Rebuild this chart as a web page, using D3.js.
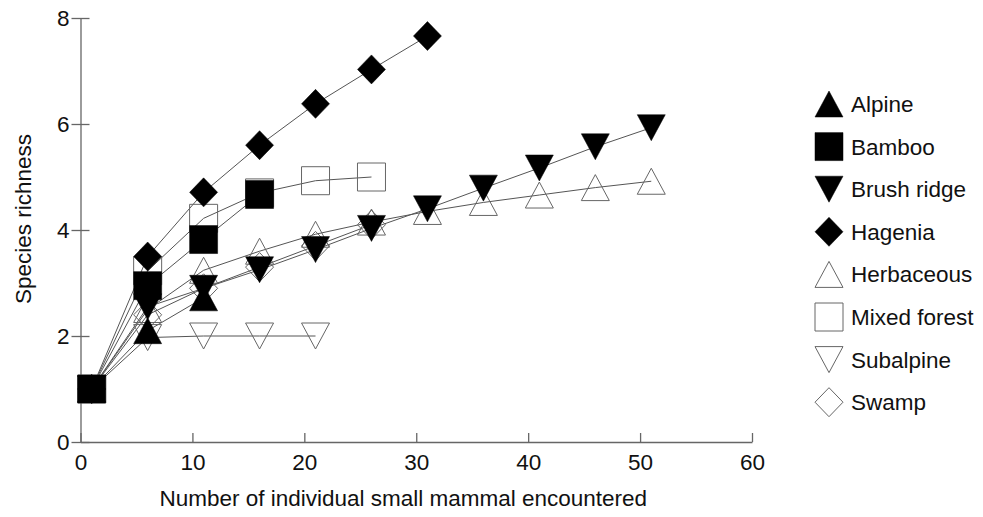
<!DOCTYPE html>
<html>
<head>
<meta charset="utf-8">
<script src="https://cdn.jsdelivr.net/npm/d3@7"></script>
<style>
  body { margin: 0; background: #fff; }
  text { font-family: "Liberation Sans", Arial, sans-serif; fill: #111; }
</style>
</head>
<body>
<div id="svg-container"></div>
<script>
// ------ DATA ------//
const habitats = ["Alpine", "Bamboo", "Brush ridge", "Hagenia", "Herbaceous", "Mixed forest", "Subalpine", "Swamp"];

// individuals encountered (x) shared by all series
const encountered = [1, 6, 11, 16, 21, 26, 31, 36, 41, 46, 51];

// species richness per habitat, one value per x above (shorter series stop early)
const alpine      = [1, 2.1, 2.72];
const bamboo      = [1, 2.95, 3.82, 4.67];
const brushRidge  = [1, 2.55, 2.9, 3.25, 3.63, 4.03, 4.4, 4.79, 5.17, 5.57, 5.93];
const hagenia     = [1, 3.5, 4.71, 5.6, 6.38, 7.03, 7.66];
const herbaceous  = [1, 2.5, 3.24, 3.6, 3.92, 4.15, 4.35, 4.52, 4.66, 4.8, 4.92];
const mixedForest = [1, 3.23, 4.22, 4.7, 4.93, 5.0];
const subalpine   = [1, 1.97, 2.0, 2.0, 2.0];
const swamp       = [1, 2.4, 2.9, 3.3, 3.7, 4.1];

const xTicks = [0, 10, 20, 30, 40, 50, 60];
const yTicks = [0, 2, 4, 6, 8];

// ------ LAYOUT ------//
const width = 983;
const height = 517;

const X_LEFT = 80.5;
const X_RIGHT = 752;
const Y_BOTTOM = 442;
const Y_TOP = 18;

const AXIS_COLOR = "#666";
const LINE_COLOR = "#555";
const OPEN_STROKE = "#666";
const FONT_SIZE = "22.5px";

// marker half sizes
const SQ = 14;
const TRI_W = 14, TRI_H = 13;
const DIA_W = 14, DIA_H = 14.5;

const values = [alpine, bamboo, brushRidge, hagenia, herbaceous, mixedForest, subalpine, swamp];
const shapes = ["up", "square", "down", "diamond", "up", "square", "down", "diamond"];
const filled = [true, true, true, true, false, false, false, false];

const series = habitats.map((name, i) => ({
  name: name,
  shape: shapes[i],
  filled: filled[i],
  points: values[i].map((v, j) => [encountered[j], v])
}));

function markerPath(shape) {
  if (shape === "square") return `M${-SQ},${-SQ}H${SQ}V${SQ}H${-SQ}Z`;
  if (shape === "up") return `M0,${-TRI_H}L${TRI_W},${TRI_H}L${-TRI_W},${TRI_H}Z`;
  if (shape === "down") return `M0,${TRI_H}L${TRI_W},${-TRI_H}L${-TRI_W},${-TRI_H}Z`;
  return `M0,${-DIA_H}L${DIA_W},0L0,${DIA_H}L${-DIA_W},0Z`;
}

const svg = d3
  .select("#svg-container")
  .append("svg")
  .attr("width", width)
  .attr("height", height);

const xScale = d3.scaleLinear().domain([0, 60]).range([X_LEFT, X_RIGHT]);
const yScale = d3.scaleLinear().domain([0, 8]).range([Y_BOTTOM, Y_TOP]);

// =========== AXES =========== //
const xAxis = svg
  .append("g")
  .attr("transform", `translate(0,${Y_BOTTOM})`)
  .call(d3.axisBottom(xScale).tickValues(xTicks).tickSize(-9).tickPadding(12).tickSizeOuter(0));

const yAxis = svg
  .append("g")
  .attr("transform", `translate(${X_LEFT},0)`)
  .call(d3.axisLeft(yScale).tickValues(yTicks).tickSize(9).tickPadding(2).tickSizeOuter(0));

// y ticks cross the axis line
yAxis.selectAll(".tick line").attr("x1", -9).attr("x2", 9);

[xAxis, yAxis].forEach((ax) => {
  ax.select(".domain").attr("stroke", AXIS_COLOR).attr("stroke-width", 1.3);
  ax.selectAll(".tick line").attr("stroke", AXIS_COLOR).attr("stroke-width", 1.3);
  ax.selectAll(".tick text")
    .style("font-size", FONT_SIZE)
    .style("font-family", "'Liberation Sans', Arial, sans-serif")
    .attr("fill", "#111");
});

svg
  .append("text")
  .attr("x", (X_LEFT + X_RIGHT) / 2 - 13)
  .attr("y", 506)
  .attr("text-anchor", "middle")
  .style("font-size", FONT_SIZE)
  .text("Number of individual small mammal encountered");

svg
  .append("text")
  .attr("transform", "translate(31,219) rotate(-90)")
  .attr("text-anchor", "middle")
  .style("font-size", FONT_SIZE)
  .text("Species richness");

// =========== LINES =========== //
const line = d3.line().x((d) => xScale(d[0])).y((d) => yScale(d[1]));

svg
  .append("g")
  .selectAll("path")
  .data(series)
  .enter()
  .append("path")
  .attr("d", (d) => line(d.points))
  .attr("fill", "none")
  .attr("stroke", LINE_COLOR)
  .attr("stroke-width", 1);

// =========== MARKERS =========== //
// open (hollow) markers first, filled ones on top
const drawOrder = series.filter((s) => !s.filled).concat(
  ["Alpine", "Brush ridge", "Hagenia", "Bamboo"].map((n) => series.find((s) => s.name === n))
);

drawOrder.forEach((s) => {
  svg
    .append("g")
    .selectAll("path")
    .data(s.points)
    .enter()
    .append("path")
    .attr("d", markerPath(s.shape))
    .attr("transform", (d) => `translate(${xScale(d[0])},${yScale(d[1])})`)
    .attr("fill", s.filled ? "#000" : "none")
    .attr("stroke", s.filled ? "#000" : OPEN_STROKE)
    .attr("stroke-width", s.filled ? 0.5 : 1);
});

// =========== LEGEND =========== //
const LEGEND_X = 829;
const LEGEND_Y0 = 104;
const LEGEND_STEP = 42.6;

const legend = svg
  .append("g")
  .selectAll("g")
  .data(series)
  .enter()
  .append("g")
  .attr("transform", (d, i) => `translate(${LEGEND_X},${LEGEND_Y0 + i * LEGEND_STEP})`);

legend
  .append("path")
  .attr("d", (d) => markerPath(d.shape))
  .attr("fill", (d) => (d.filled ? "#000" : "#fff"))
  .attr("stroke", (d) => (d.filled ? "#000" : OPEN_STROKE))
  .attr("stroke-width", (d) => (d.filled ? 0.5 : 1));

legend
  .append("text")
  .attr("x", 22)
  .attr("y", 8)
  .style("font-size", FONT_SIZE)
  .text((d) => d.name);
</script>
</body>
</html>
